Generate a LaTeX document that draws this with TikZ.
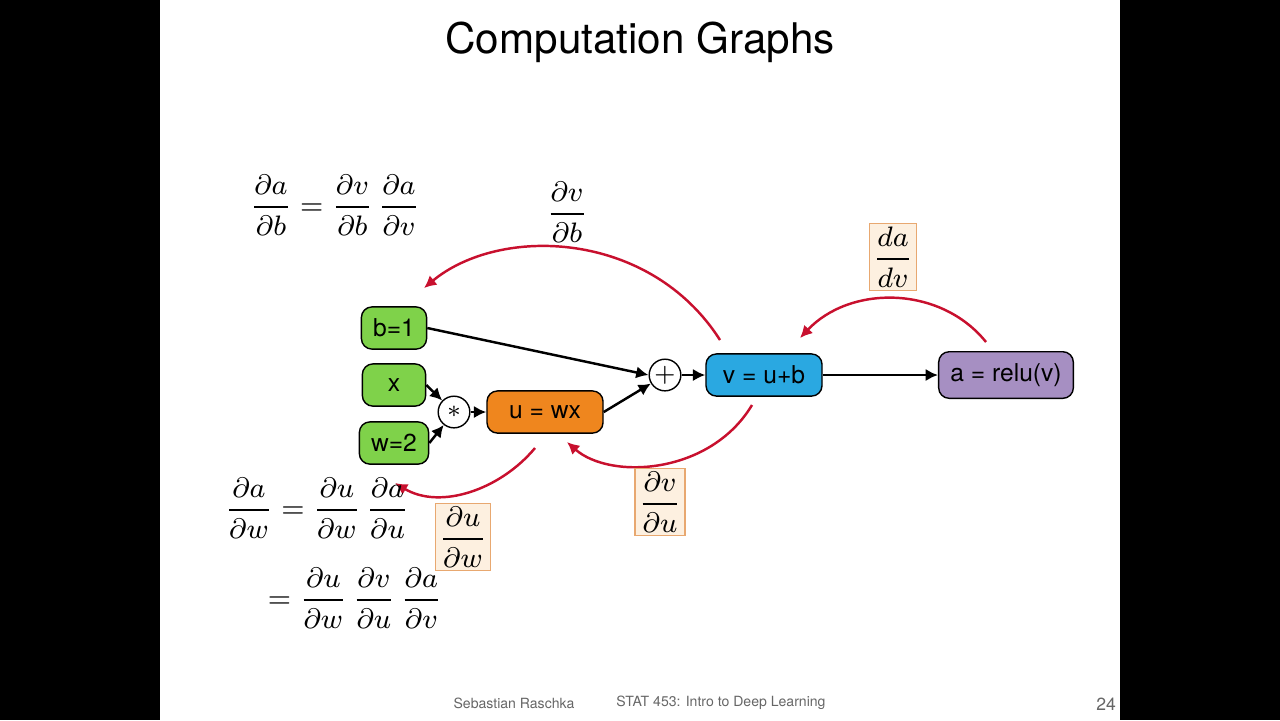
\documentclass[tikz,border=0pt]{standalone}
\usepackage{amsmath}
\usepackage{fontspec}
\setmainfont{TeX Gyre Heros}
\usetikzlibrary{arrows.meta,positioning}
\definecolor{boxgreen}{HTML}{7FD24A}
\definecolor{boxorange}{HTML}{EF861E}
\definecolor{boxblue}{HTML}{2AA8E1}
\definecolor{boxpurple}{HTML}{A68FC2}
\definecolor{arcred}{HTML}{C8102E}
\definecolor{notefill}{HTML}{FDF0E0}
\definecolor{noteline}{HTML}{E8A870}
\tikzset{
    var/.style={
    rectangle,rounded corners=3pt,draw=black,thin,minimum height=12pt,
    font=\fontsize{7}{8}\selectfont
    },
    op/.style={
    circle,draw=black,thin,fill=white,minimum size=9pt,inner sep=0pt,
    font=\fontsize{7}{8}\selectfont
    },
    flow/.style={-{Latex[length=3.5pt,width=3.5pt]},line width=0.7pt},
    grad/.style={-{Latex[length=3.5pt,width=3.5pt]},arcred,line width=0.7pt},
    note/.style={
    rectangle,draw=noteline,fill=notefill,inner sep=1pt
    },
    eq/.style={font=\fontsize{8}{10}\selectfont},
    foot/.style={text=gray!80!black,font=\fontsize{4}{5}\selectfont},
}
\begin{document}
\begin{tikzpicture}[x=0.01cm,y=-0.01cm]
   \useasboundingbox (0,0) rectangle (1280,720);
   \fill[black] (0,0) rectangle (160,720);
   \fill[black] (1120,0) rectangle (1280,720);
   \node[font=\fontsize{12}{14}\selectfont] (title) at (640,42) {Computation Graphs};

   \node[var,fill=boxgreen,minimum width=18pt] (b) at (394,328) {b=1};
   \node[var,fill=boxgreen,minimum width=18pt] (x) at (394,385) {x};
   \node[var,fill=boxgreen,minimum width=18pt] (w) at (394,443) {w=2};
   \node[op] (mul) at (454,412) {$*$};
   \node[var,fill=boxorange,minimum width=33pt] (u) at (545,412) {u = wx};
   \node[op] (add) at (665,375) {$+$};
   \node[var,fill=boxblue,minimum width=33pt] (v) at (764,375) {v = u+b};
   \node[var,fill=boxpurple,minimum width=38pt] (a) at (1006,375) {a = relu(v)};

   \draw[flow] (b.east) -- (add.west);
   \draw[flow] (x.east) -- (mul);
   \draw[flow] (w.east) -- (mul);
   \draw[flow] (mul) -- (u);
   \draw[flow] (u.east) -- (add);
   \draw[flow] (add) -- (v);
   \draw[flow] (v) -- (a);

   % backward pass
   \coordinate (g1s) at (720,340);
   \coordinate (g1e) at (424,288);
   \coordinate (g2s) at (986,342);
   \coordinate (g2e) at (800,338);
   \coordinate (g3s) at (752,405);
   \coordinate (g3e) at (567,442);
   \coordinate (g4s) at (535,448);
   \coordinate (g4e) at (395,483);
   \draw[grad] (g1s) .. controls (650,230) and (500,225) .. (g1e);
   \draw[grad] (g2s) .. controls (940,285) and (850,285) .. (g2e);
   \draw[grad] (g3s) .. controls (710,475) and (610,480) .. (g3e);
   \draw[grad] (g4s) .. controls (500,490) and (440,510) .. (g4e);

   \node[eq] (dvdb) at (567,212) {$\dfrac{\partial v}{\partial b}$};
   \node[eq,note] (dadv) at (893,257) {$\dfrac{da}{dv}$};
   \node[eq,note] (dvdu) at (660,502) {$\dfrac{\partial v}{\partial u}$};
   \node[eq,note] (dudw) at (463,537) {$\dfrac{\partial u}{\partial w}$};

   \node[eq] (eqb) at (335,205) {$\dfrac{\partial a}{\partial b}=\dfrac{\partial v}{\partial b}\,\dfrac{\partial a}{\partial v}$};
   \node[eq] (eqw) at (317,508) {$\dfrac{\partial a}{\partial w}=\dfrac{\partial u}{\partial w}\,\dfrac{\partial a}{\partial u}$};
   \node[eq] (eqw2) at (355,598) {$=\dfrac{\partial u}{\partial w}\,\dfrac{\partial v}{\partial u}\,\dfrac{\partial a}{\partial v}$};

   \node[foot] (author) at (514,703) {Sebastian Raschka};
   \node[foot] (course) at (721,703) {STAT 453: Intro to Deep Learning};
   \node[foot,font=\fontsize{5}{6}\selectfont] (page) at (1106,704) {24};
\end{tikzpicture}
\end{document}
